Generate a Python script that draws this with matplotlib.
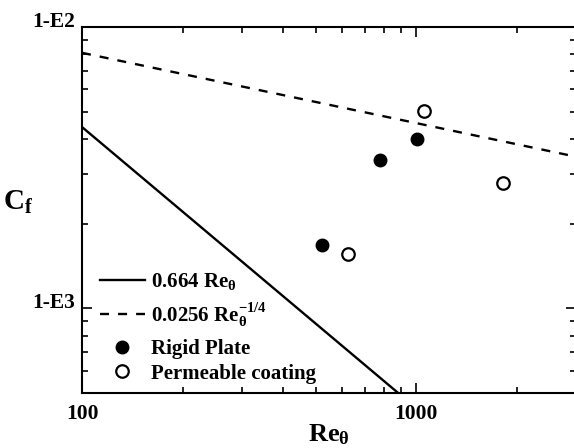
import numpy as np
import matplotlib
matplotlib.use("Agg")
import matplotlib.pyplot as plt
from matplotlib.ticker import FixedLocator, LogLocator, NullFormatter, FixedFormatter

plt.rcParams['font.family'] = ['Liberation Serif', 'DejaVu Serif']
plt.rcParams['font.weight'] = 'bold'
plt.rcParams['axes.labelweight'] = 'bold'
plt.rcParams['mathtext.fontset'] = 'custom'
plt.rcParams['mathtext.rm'] = 'Liberation Serif:bold'
plt.rcParams['mathtext.it'] = 'Liberation Serif:bold'
plt.rcParams['mathtext.bf'] = 'Liberation Serif:bold'
plt.rcParams['lines.scale_dashes'] = False

# --- data ---
re_range = [100, 3000]
lam_coef = 0.441          # 0.664^2 (Blasius, Cf = 0.441 / Re_theta)
turb_coef = 0.0256
turb_exp = -0.25

rigid_re = [522, 780, 1007]
rigid_cf = [1.68e-3, 3.38e-3, 4.00e-3]

perm_re = [625, 1057, 1809]
perm_cf = [1.555e-3, 5.01e-3, 2.80e-3]

xticks = [100, 1000]
xticklabels = ['100', '1000']
yticks = [1e-3, 1e-2]
yticklabels = ['1-E3', '1-E2']

fig = plt.figure(figsize=(5.74, 4.48), dpi=100)
ax = fig.add_axes([82/574, 1-393/448, (576-82)/574, (393-27)/448])
ax.set_xscale('log')
ax.set_yscale('log')

re_arr = np.array(re_range, dtype=float)
l1, = ax.plot(re_arr, lam_coef / re_arr, color='black', lw=1.7, label=r'0.664 Re$_\theta$')
l2, = ax.plot(re_arr, turb_coef * re_arr**turb_exp, color='black', lw=1.7,
              dashes=(6.5, 6.5), label=r'0.0256 Re$_\theta^{-1/4}$')
p1, = ax.plot(rigid_re, rigid_cf, 'o', color='black', ms=9, ls='none', label='Rigid Plate')
p2, = ax.plot(perm_re, perm_cf, 'o', mfc='white', mec='black', mew=1.6, ms=9, ls='none',
              label='Permeable coating')

ax.set_xlim(100, 3000)
ax.set_ylim(5e-4, 1e-2)

ax.xaxis.set_major_locator(FixedLocator(xticks))
ax.xaxis.set_major_formatter(FixedFormatter(xticklabels))
ax.xaxis.set_minor_locator(LogLocator(base=10, subs=np.arange(2, 10)))
ax.xaxis.set_minor_formatter(NullFormatter())
ax.yaxis.set_major_locator(FixedLocator(yticks))
ax.yaxis.set_major_formatter(FixedFormatter(yticklabels))
ax.yaxis.set_minor_locator(LogLocator(base=10, subs=np.arange(2, 10)))
ax.yaxis.set_minor_formatter(NullFormatter())

ax.tick_params(which='both', direction='in', top=True, right=True, width=1.2)
ax.tick_params(which='major', length=7, labelsize=15.5)
ax.tick_params(which='minor', length=4)
ax.tick_params(axis='x', which='major', pad=8)
ax.tick_params(axis='y', which='major', pad=5)
for lbl in ax.get_yticklabels():
    lbl.set_va('baseline')
for sp in ax.spines.values():
    sp.set_linewidth(1.5)

ax.set_xlabel(r'Re$_\theta$', fontsize=19, fontweight='bold')
ax.xaxis.set_label_coords(0.5, -0.08)
ax.set_ylabel(r'C$_\mathrm{f}$', fontsize=21, fontweight='bold', rotation=0,
              va='center', ha='center')
ax.yaxis.set_label_coords(-0.13, 0.52)

leg1 = ax.legend(handles=[l1, l2], loc='upper left',
                 bbox_to_anchor=(0.036, (393-271)/366), frameon=False,
                 fontsize=15, handlelength=2.15, handletextpad=0.33, labelspacing=0.45,
                 borderaxespad=0.0, borderpad=0.0)
ax.add_artist(leg1)
ax.legend(handles=[p1, p2], loc='upper left',
          bbox_to_anchor=(0.036, (393-339)/366), frameon=False,
          fontsize=15, handlelength=2.15, handletextpad=0.33, labelspacing=0.22,
          borderaxespad=0.0, borderpad=0.0)

fig.savefig('out.png', dpi=100, facecolor='white')
